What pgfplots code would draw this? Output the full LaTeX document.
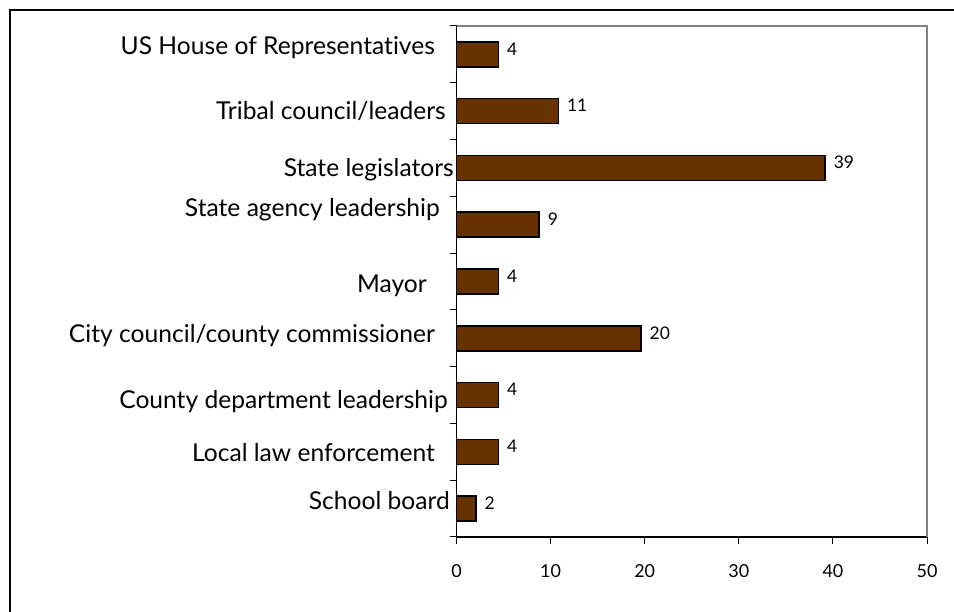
\documentclass[border=0pt]{standalone}
\usepackage{fontspec}
\setmainfont{Lato}[Ligatures={NoCommon}]
\usepackage{pgfplots}
\pgfplotsset{compat=1.18}
\definecolor{barbrown}{HTML}{663300}
\definecolor{framegray}{HTML}{808080}

\pgfplotstableread{
pos val lab
0 2.07 2
1 4.45 4
2 4.44 4
3 19.6 20
4 4.45 4
5 8.77 9
6 39.16 39
7 10.82 11
8 4.44 4
}\govdata

\newcommand{\catlab}[4]{%
  \node[anchor=base east, inner sep=0pt, xshift=#2bp, yshift=#3bp,
    font=\fontsize{24.7}{28}\selectfont] at (axis cs:0,#1) {#4};}

\begin{document}
\begin{tikzpicture}[x=1bp,y=1bp]
\useasboundingbox (0,0) rectangle (954,612);
\draw[line width=2bp] (10,-20) -- (10,602) -- (980,602);
\begin{axis}[
  at={(456.5bp,75bp)}, anchor=south west,
  scale only axis, width=470.5bp, height=511bp,
  xbar, bar width=25bp,
  xmin=0, xmax=50, xtick={0,10,...,50},
  ymin=-0.5, ymax=8.5,
  ytick={-0.5,0.5,...,8.5}, yticklabels={},
  axis lines=left, axis line style={-, line width=1.5bp},
  tick align=outside, major tick length=7bp,
  tick style={black, line width=1bp},
  /pgf/number format/assume math mode=true,
  xticklabel style={font=\fontsize{18}{21}\selectfont, yshift=-17bp},
  nodes near coords, point meta=explicit symbolic,
  nodes near coords style={anchor=west, inner sep=0pt, xshift=8bp, yshift=5.5bp,
    font=\fontsize{17.5}{20}\selectfont},
  clip=false,
]
\draw[framegray, line width=2bp] (axis cs:0,8.5) -- (axis cs:50,8.5) -- (axis cs:50,-0.5);
\addplot[fill=barbrown, draw=black, line width=1.5bp]
  table[x=val, y=pos, meta=lab] {\govdata};
\catlab{8}{-21.5}{-0.6}{US House of Representatives}
\catlab{7}{-10.5}{-8.8}{Tribal council/leaders}
\catlab{6}{-2.5}{-9}{State legislators}
\catlab{5}{-16.5}{7.8}{State agency leadership}
\catlab{4}{-29.5}{-11.4}{Mayor}
\catlab{3}{-21.5}{-4.6}{City council/county commissioner}
\catlab{2}{-8.5}{-13.8}{County department leadership}
\catlab{1}{-21.5}{-10}{Local law enforcement}
\catlab{0}{-6.5}{-1.2}{School board}
\end{axis}
\end{tikzpicture}
\end{document}
